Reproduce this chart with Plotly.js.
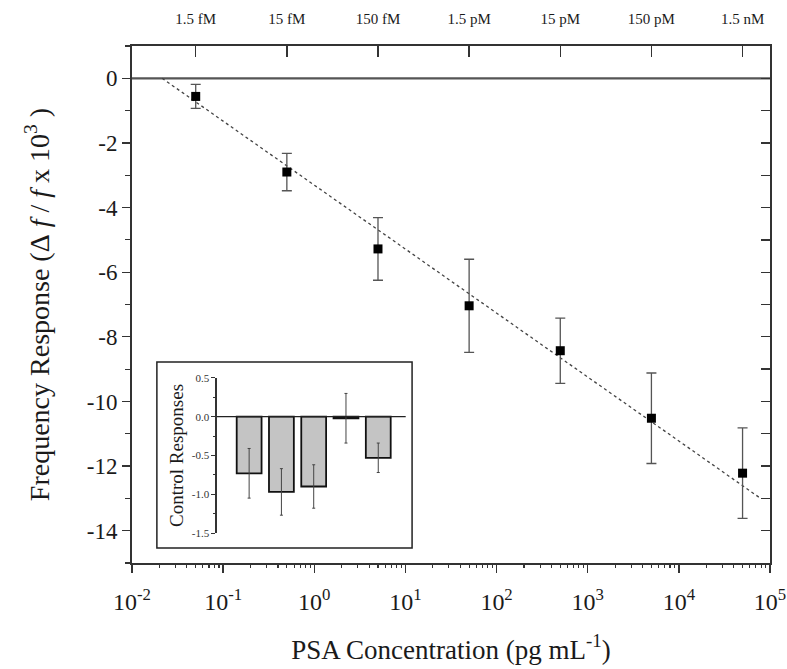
<!DOCTYPE html>
<html>
<head>
<meta charset="utf-8">
<script src="https://cdn.plot.ly/plotly-3.0.1.min.js"></script>
<style>html,body{margin:0;padding:0;background:#fff;}#chart{width:787px;height:669px;}</style>
</head>
<body>
<div id="chart"></div>
<script>
// ---- data ----
var conc = [0.05, 0.5, 5, 50, 500, 5000, 50000];          // pg/mL
var resp = [-0.56, -2.90, -5.28, -7.04, -8.43, -10.52, -12.22];
var respErr = [0.37, 0.58, 0.97, 1.44, 1.01, 1.40, 1.40];
var fitX = [0.0214, 78900];
var fitY = [0, -13.0];
var topTickText = ['1.5 fM', '15 fM', '150 fM', '1.5 pM', '15 pM', '150 pM', '1.5 nM'];
var bottomTickVals = [0.01, 0.1, 1, 10, 100, 1000, 10000, 100000];
var bottomTickText = ['10<sup>-2</sup>', '10<sup>-1</sup>', '10<sup>0</sup>', '10<sup>1</sup>', '10<sup>2</sup>', '10<sup>3</sup>', '10<sup>4</sup>', '10<sup>5</sup>'];
var leftTickVals = [0, -2, -4, -6, -8, -10, -12, -14];
var leftTickText = ['0', '-2', '-4', '-6', '-8', '-10', '-12', '-14'];
var ctrlPos = [0, 1, 2, 3, 4];
var ctrlVals = [-0.73, -0.97, -0.90, -0.02, -0.53];
var ctrlErr = [0.32, 0.30, 0.28, 0.32, 0.19];
var ctrlTickVals = [0.5, 0, -0.5, -1, -1.5];
var ctrlTickText = ['0.5', '0.0', '-0.5', '-1.0', '-1.5'];

var minorVals = [];
for (var d = -2; d < 5; d++) { for (var m = 2; m <= 9; m++) { minorVals.push(m * Math.pow(10, d)); } }

var serif = '"Liberation Serif", "Times New Roman", Times, serif';
var axisCol = '#333';
var txtCol = '#1a1a1a';
var nb = '\u00a0';

var traces = [
  { x: fitX, y: fitY, type: 'scatter', mode: 'lines', xaxis: 'x', yaxis: 'y',
    line: { color: '#444', width: 1.3, dash: '3px,3px' }, hoverinfo: 'skip' },
  { x: conc, y: resp, type: 'scatter', mode: 'markers', xaxis: 'x', yaxis: 'y',
    marker: { symbol: 'square', size: 9, color: '#000' },
    error_y: { type: 'data', array: respErr, visible: true, color: '#555', thickness: 1.3, width: 5 } },
  { x: [0.01], y: [0], type: 'scatter', mode: 'markers', xaxis: 'x4', yaxis: 'y',
    marker: { opacity: 0 }, hoverinfo: 'skip' },
  { x: [0.01], y: [0], type: 'scatter', mode: 'markers', xaxis: 'x2', yaxis: 'y2',
    marker: { opacity: 0 }, hoverinfo: 'skip' },
  { x: ctrlPos, y: ctrlVals, type: 'bar', xaxis: 'x3', yaxis: 'y3', width: 0.77,
    marker: { color: '#c4c4c4', line: { color: '#111', width: 1.8 } },
    error_y: { type: 'data', array: ctrlErr, visible: true, color: '#444', thickness: 1, width: 1.5 } }
];

var layout = {
  width: 787, height: 669,
  margin: { l: 132, r: 17, t: 46, b: 106 },
  paper_bgcolor: '#fff', plot_bgcolor: '#fff',
  showlegend: false,
  font: { family: serif, color: txtCol },
  xaxis: {
    type: 'log', range: [-2, 5], domain: [0, 1],
    tickvals: bottomTickVals, ticktext: bottomTickText,
    ticks: 'outside', ticklen: 8, tickwidth: 1.3, tickcolor: axisCol,
    ticklabelstandoff: 8,
    showline: true, linecolor: axisCol, linewidth: 2, showgrid: false, zeroline: false,
    tickfont: { family: serif, size: 24, color: txtCol },
    title: { text: nb + nb + nb + 'PSA Concentration (pg mL<sup>-1</sup>)', font: { family: serif, size: 27, color: txtCol }, standoff: 26 }
  },
  xaxis4: {
    type: 'log', range: [-2, 5], overlaying: 'x', anchor: 'y',
    tickvals: minorVals, showticklabels: false,
    ticks: 'outside', ticklen: 4, tickwidth: 1.1, tickcolor: axisCol,
    showline: false, showgrid: false, zeroline: false
  },
  xaxis2: {
    type: 'log', range: [-2, 5], overlaying: 'x', side: 'top', anchor: 'y2',
    tickvals: conc, ticktext: topTickText,
    ticks: 'inside', ticklen: 11, tickwidth: 1.3, tickcolor: axisCol,
    ticklabelstandoff: 14,
    showline: true, linecolor: axisCol, linewidth: 2, showgrid: false, zeroline: false,
    tickfont: { family: serif, size: 15, color: txtCol }
  },
  yaxis: {
    range: [-15, 1], domain: [0, 1],
    tickvals: leftTickVals, ticktext: leftTickText,
    ticks: 'outside', ticklen: 8, tickwidth: 1.3, tickcolor: axisCol,
    minor: { dtick: 1, ticks: 'outside', ticklen: 5, tickwidth: 1.1, tickcolor: axisCol, showgrid: false },
    showline: true, linecolor: axisCol, linewidth: 2, showgrid: false, zeroline: false,
    tickfont: { family: serif, size: 23, color: txtCol },
    title: { text: 'Frequency Response (\u0394' + nb + '<i>f</i>' + nb + '/' + nb + '<i>f</i>' + nb + 'x' + nb + '10<sup>3</sup>' + nb + ')',
             font: { family: serif, size: 28, color: txtCol }, standoff: 29 }
  },
  yaxis2: {
    range: [-15, 1], overlaying: 'y', side: 'right', anchor: 'x2',
    dtick: 1, tick0: 0, showticklabels: false,
    ticks: 'inside', ticklen: 9, tickwidth: 1.3, tickcolor: axisCol,
    showline: true, linecolor: axisCol, linewidth: 2, showgrid: false, zeroline: false
  },
  xaxis3: {
    domain: [0.133, 0.429], anchor: 'y3', range: [-1.0, 4.85],
    showticklabels: false, ticks: '', showline: false, showgrid: false, zeroline: false
  },
  yaxis3: {
    domain: [0.058, 0.358], anchor: 'x3', range: [-1.5, 0.5],
    tickvals: ctrlTickVals, ticktext: ctrlTickText,
    ticks: 'outside', ticklen: 4, tickwidth: 1, tickcolor: axisCol,
    minor: { dtick: 0.25, ticks: 'outside', ticklen: 2, tickwidth: 1, tickcolor: axisCol, showgrid: false },
    showline: true, linecolor: axisCol, linewidth: 1.5, showgrid: false, zeroline: false,
    tickfont: { family: serif, size: 11, color: '#333' },
    title: { text: 'Control Responses', font: { family: serif, size: 19, color: txtCol }, standoff: 3 }
  },
  shapes: [
    { type: 'line', xref: 'paper', yref: 'y', x0: 0, x1: 1, y0: 0, y1: 0,
      line: { color: '#555', width: 2.2 }, layer: 'below' },
    { type: 'rect', xref: 'paper', yref: 'paper', x0: 0.039, x1: 0.439, y0: 0.029, y1: 0.389,
      line: { color: '#222', width: 1.5 }, fillcolor: 'rgba(0,0,0,0)', layer: 'below' },
    { type: 'line', xref: 'x3 domain', yref: 'y3', x0: 0, x1: 1, y0: 0, y1: 0,
      line: { color: '#222', width: 1.3 }, layer: 'above' }
  ]
};

Plotly.newPlot('chart', traces, layout, { displayModeBar: false, staticPlot: true });
</script>
</body>
</html>
